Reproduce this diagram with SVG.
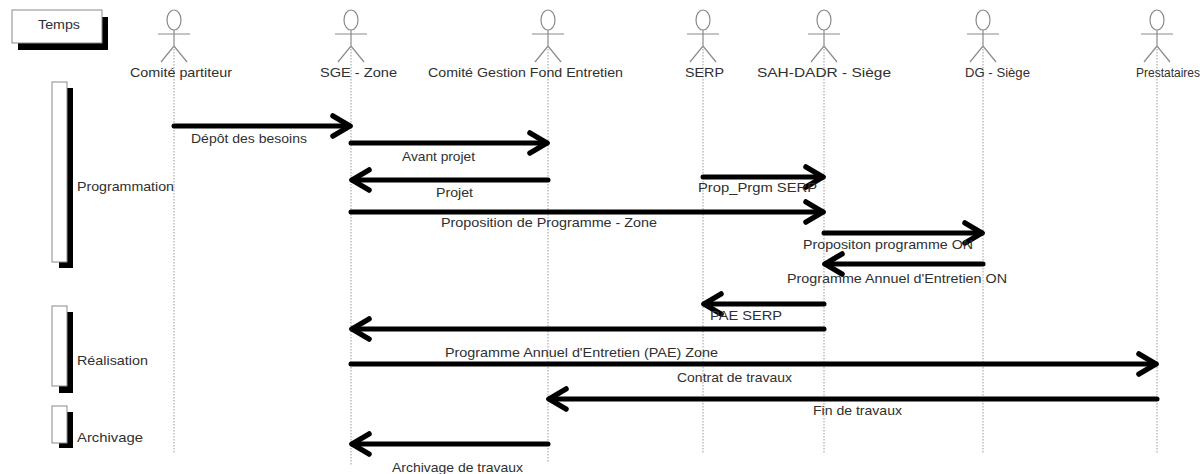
<svg xmlns="http://www.w3.org/2000/svg" width="1202" height="474" viewBox="0 0 1202 474">
<style>
text{font-family:"Liberation Sans",Arial,sans-serif;font-size:13px;fill:#303030}
.fig{fill:none;stroke:#8a8a8a;stroke-width:1.2}
.life{stroke:#9a9a9a;stroke-width:1;stroke-dasharray:1.5 1.5;fill:none}
.box{fill:#fff;stroke:#8a8a8a;stroke-width:1}
.sh{fill:#000}
.msg{stroke:#000;stroke-width:5;stroke-linecap:round;fill:none;marker-end:url(#arr)}
</style>
<defs>
<marker id="arr" markerUnits="userSpaceOnUse" markerWidth="30" markerHeight="30" viewBox="-24 -15 30 30" refX="0" refY="0" orient="auto" overflow="visible">
<path d="M-17,-10 L0,0 L-17,10" fill="none" stroke="#000" stroke-width="5.5" stroke-linecap="round" stroke-linejoin="round"/>
</marker>
<g id="stick">
<ellipse cx="0" cy="20" rx="7" ry="10" class="fig"/>
<path d="M0,30 V46 M-16,34 H16 M-13,62 L0,46 L13,62" class="fig"/>
</g>
</defs>

<g id="temps">
<rect x="18" y="17" width="90" height="33" class="sh"/>
<rect x="12" y="10" width="90" height="33" class="box"/>
<text x="38" y="29" textLength="42" lengthAdjust="spacingAndGlyphs">Temps</text>
</g>

<g id="programmation">
<rect x="59" y="88" width="14" height="180" class="sh"/>
<rect x="52" y="82" width="15" height="180" class="box"/>
<text x="77" y="191" textLength="97" lengthAdjust="spacingAndGlyphs">Programmation</text>
</g>
<g id="realisation">
<rect x="59" y="312" width="14" height="81" class="sh"/>
<rect x="52" y="306" width="15" height="80" class="box"/>
<text x="77" y="365" textLength="71" lengthAdjust="spacingAndGlyphs">Réalisation</text>
</g>
<g id="archivage">
<rect x="59" y="412" width="14" height="36" class="sh"/>
<rect x="52" y="406" width="15" height="37" class="box"/>
<text x="77" y="442" textLength="66" lengthAdjust="spacingAndGlyphs">Archivage</text>
</g>

<g id="actor-comite-partiteur">
<use href="#stick" x="174" y="0"/>
<line x1="174" y1="46" x2="174" y2="453" class="life"/>
<text x="130" y="77" textLength="102" lengthAdjust="spacingAndGlyphs">Comité partiteur</text>
</g>
<g id="actor-sge-zone">
<use href="#stick" x="351" y="0"/>
<line x1="351" y1="46" x2="351" y2="465" class="life"/>
<text x="320" y="77" textLength="77" lengthAdjust="spacingAndGlyphs">SGE - Zone</text>
</g>
<g id="actor-comite-gestion">
<use href="#stick" x="548" y="0"/>
<line x1="548" y1="46" x2="548" y2="463" class="life"/>
<text x="428" y="77" textLength="195" lengthAdjust="spacingAndGlyphs">Comité Gestion Fond Entretien</text>
</g>
<g id="actor-serp">
<use href="#stick" x="703" y="0"/>
<line x1="703" y1="46" x2="703" y2="453" class="life"/>
<text x="685" y="77" textLength="39" lengthAdjust="spacingAndGlyphs">SERP</text>
</g>
<g id="actor-sah-dadr">
<use href="#stick" x="824" y="0"/>
<line x1="824" y1="46" x2="824" y2="453" class="life"/>
<text x="757" y="77" textLength="134" lengthAdjust="spacingAndGlyphs">SAH-DADR - Siège</text>
</g>
<g id="actor-dg">
<use href="#stick" x="983" y="0"/>
<line x1="983" y1="46" x2="983" y2="453" class="life"/>
<text x="965" y="77" textLength="65" lengthAdjust="spacingAndGlyphs">DG - Siège</text>
</g>
<g id="actor-prestataires">
<use href="#stick" x="1157" y="0"/>
<line x1="1157" y1="46" x2="1157" y2="453" class="life"/>
<text x="1136" y="77" style="font-size:12px">Prestataires</text>
</g>

<g id="connectors">
<line x1="174" y1="126" x2="350" y2="126" class="msg"/>
<line x1="351" y1="143" x2="547" y2="143" class="msg"/>
<line x1="548" y1="180" x2="352" y2="180" class="msg"/>
<line x1="703" y1="177" x2="823" y2="177" class="msg"/>
<line x1="351" y1="212" x2="823" y2="212" class="msg"/>
<line x1="824" y1="233" x2="982" y2="233" class="msg"/>
<line x1="983" y1="264" x2="825" y2="264" class="msg"/>
<line x1="824" y1="304" x2="704" y2="304" class="msg"/>
<line x1="824" y1="329" x2="352" y2="329" class="msg"/>
<line x1="351" y1="364" x2="1156" y2="364" class="msg"/>
<line x1="1157" y1="399" x2="549" y2="399" class="msg"/>
<line x1="548" y1="444" x2="352" y2="444" class="msg"/>
</g>

<g id="labels">
<text x="191" y="143" textLength="116" lengthAdjust="spacingAndGlyphs">Dépôt des besoins</text>
<text x="402" y="161" textLength="73" lengthAdjust="spacingAndGlyphs">Avant projet</text>
<text x="436" y="197" textLength="37" lengthAdjust="spacingAndGlyphs">Projet</text>
<text x="698" y="192" textLength="119" lengthAdjust="spacingAndGlyphs">Prop_Prgm SERP</text>
<text x="441" y="227" textLength="216" lengthAdjust="spacingAndGlyphs">Proposition de Programme - Zone</text>
<text x="803" y="249" textLength="170" lengthAdjust="spacingAndGlyphs">Propositon programme ON</text>
<text x="787" y="283" textLength="220" lengthAdjust="spacingAndGlyphs">Programme Annuel d'Entretien ON</text>
<text x="710" y="320" textLength="72" lengthAdjust="spacingAndGlyphs">PAE SERP</text>
<text x="445" y="357" textLength="273" lengthAdjust="spacingAndGlyphs">Programme Annuel d'Entretien (PAE) Zone</text>
<text x="677" y="382" textLength="115" lengthAdjust="spacingAndGlyphs">Contrat de travaux</text>
<text x="813" y="415" textLength="89" lengthAdjust="spacingAndGlyphs">Fin de travaux</text>
<text x="392" y="472" textLength="131" lengthAdjust="spacingAndGlyphs">Archivage de travaux</text>
</g>
</svg>
